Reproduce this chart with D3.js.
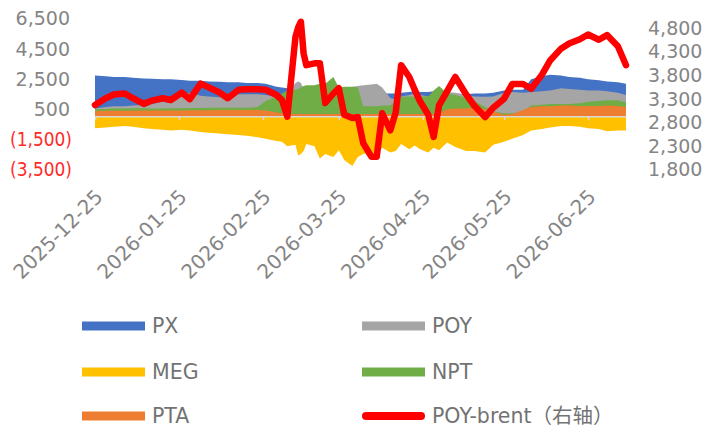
<!DOCTYPE html>
<html>
<head>
<meta charset="utf-8">
<script src="https://cdn.jsdelivr.net/npm/d3@7"></script>
<style>
  html, body { margin: 0; padding: 0; background: #fff; }
  svg text { font-family: "DejaVu Sans", "Noto Sans CJK SC", sans-serif; }
</style>
</head>
<body>
<svg class="chart" width="711" height="435"></svg>
<script>
// dates of the sampled points
var dates = ["2025-12-25","2025-12-29","2026-01-01","2026-01-05","2026-01-08","2026-01-12","2026-01-15","2026-01-19",
  "2026-01-22","2026-01-26","2026-01-29","2026-02-02","2026-02-05","2026-02-09","2026-02-12","2026-02-16",
  "2026-02-19","2026-02-23","2026-02-26","2026-03-02","2026-03-04","2026-03-06","2026-03-09","2026-03-10",
  "2026-03-11","2026-03-12","2026-03-13","2026-03-16","2026-03-18","2026-03-20","2026-03-23","2026-03-25",
  "2026-03-27","2026-03-30","2026-04-01","2026-04-03","2026-04-06","2026-04-08","2026-04-10","2026-04-13",
  "2026-04-15","2026-04-17","2026-04-20","2026-04-22","2026-04-24","2026-04-27","2026-04-29","2026-05-01",
  "2026-05-04","2026-05-07","2026-05-11","2026-05-14","2026-05-18","2026-05-21","2026-05-25","2026-05-28",
  "2026-06-01","2026-06-04","2026-06-08","2026-06-11","2026-06-15","2026-06-18","2026-06-22","2026-06-25",
  "2026-06-29","2026-07-02","2026-07-06","2026-07-09"];

var px  = [2700,2650,2600,2600,2550,2500,2480,2450,2450,2400,2350,2350,2300,2280,2250,2250,
  2200,2200,2150,1950,1900,1850,1800,1700,1650,1600,1550,1500,1500,1500,1500,1500,
  1500,1500,1500,1500,1500,1500,1500,1500,1500,1550,1600,1650,1600,1600,1650,1600,
  1500,1500,1450,1500,1500,1550,1700,1750,1750,2450,2650,2750,2700,2600,2550,2450,
  2380,2300,2250,2150];
var poy = [500,600,650,650,700,750,800,950,850,1300,1550,1350,1300,1250,1350,1450,
  1450,1450,1400,1300,1350,1500,2200,2300,2200,1800,1300,1200,1200,1200,1200,1300,
  1500,1950,2000,2050,2100,2150,1900,1200,1100,1300,1400,1500,1400,1300,1500,1400,
  1600,1550,1400,1300,1280,1300,1550,1600,1550,1600,1650,1700,1850,1800,1750,1700,
  1700,1650,1550,1400];
var meg = [-800,-750,-700,-650,-700,-800,-850,-900,-950,-900,-950,-1050,-1100,-1150,-1200,-1250,
  -1300,-1400,-1500,-1650,-1700,-2000,-1900,-2600,-2500,-2300,-1850,-2000,-2800,-2500,-2700,-2250,
  -2900,-3300,-2700,-2500,-2400,-2550,-2100,-2400,-2300,-1850,-2200,-1950,-2200,-2400,-2100,-2250,
  -1750,-2050,-2300,-2300,-2400,-1900,-1700,-1500,-1250,-950,-850,-750,-650,-650,-700,-800,
  -850,-1000,-950,-950];
var npt = [450,480,500,500,520,520,500,500,520,520,540,540,550,550,550,560,
  560,600,1000,1300,1500,1700,1750,1800,1900,2000,2050,2050,2150,2150,2600,1900,
  1950,1950,1900,650,650,650,700,700,1000,1280,1300,1280,1300,1300,1700,2000,
  1500,1400,1200,1000,600,300,200,200,300,700,750,800,800,800,850,950,
  1000,1050,1050,900];
var pta = [330,350,350,360,360,370,370,380,380,380,390,390,390,400,400,400,
  400,400,380,250,200,150,150,150,150,150,150,150,150,150,150,150,
  150,150,150,150,150,150,150,150,150,150,150,150,150,150,150,200,
  450,500,500,550,450,300,100,150,400,600,650,650,700,700,650,680,
  680,700,680,600];
var poyBrent = [3156,3300,3380,3400,3300,3180,3250,3300,3262,3420,3280,3610,3530,3420,3300,3480,
  3490,3490,3480,3368,3262,2908,4600,4800,4920,4250,4000,4040,4040,3200,3400,3510,
  2950,2880,2900,2350,2062,2062,2980,2620,3000,4000,3750,3480,3230,2950,2480,3150,
  3450,3750,3380,3140,2900,3100,3290,3600,3600,3500,3800,4100,4350,4460,4550,4650,
  4540,4640,4400,4000];

var leftTicks = [-3500, -1500, 500, 2500, 4500, 6500];
var rightTicks = [1800, 2300, 2800, 3300, 3800, 4300, 4800];
var xTickDates = ["2025-12-25","2026-01-25","2026-02-25","2026-03-25","2026-04-25","2026-05-25","2026-06-25"];

(function () {
  var parse = d3.timeParse("%Y-%m-%d");
  var days = dates.map(parse);

  // area series in drawing order (first = back)
  var areas = [
    {name: "PX",  color: "#4472c4", values: px},
    {name: "POY", color: "#a5a5a5", values: poy},
    {name: "MEG", color: "#ffc000", values: meg},
    {name: "NPT", color: "#70ad47", values: npt},
    {name: "PTA", color: "#ed7d31", values: pta}
  ];

  var chart = d3.select("svg.chart"),
      plotTop = 18, plotBottom = 169, plotLeft = 95, plotRight = 626;

  var xScale = d3.scaleTime().domain([parse("2025-12-25"), parse("2026-07-09")]).range([plotLeft, plotRight]),
      yLeft = d3.scaleLinear().domain([-3500, 6500]).range([plotBottom, plotTop]),
      yRight = d3.scaleLinear().domain([1800, 5000]).range([plotBottom, plotTop]);

  // areas
  areas.forEach(function(s) {
    var area = d3.area()
      .x(function(d, i) { return xScale(days[i]); })
      .y0(yLeft(0))
      .y1(function(d) { return yLeft(d); });
    chart.append("path")
      .attr("d", area(s.values))
      .attr("fill", s.color);
  });

  // horizontal axis at zero
  var xAxis = d3.axisBottom(xScale)
    .tickValues(xTickDates.map(parse))
    .tickSize(4).tickSizeOuter(0)
    .tickFormat("");
  chart.append("g").attr("id", "xAxisG")
    .attr("transform", "translate(0," + yLeft(0) + ")")
    .call(xAxis);
  d3.selectAll("#xAxisG path, #xAxisG line").attr("stroke", "#d9d9d9").attr("stroke-width", 1.5);

  // POY-brent line
  var line = d3.line()
    .x(function(d, i) { return xScale(days[i]); })
    .y(function(d) { return yRight(d); });
  chart.append("path")
    .attr("d", line(poyBrent))
    .attr("fill", "none")
    .attr("stroke", "#ff0000")
    .attr("stroke-width", 6.5)
    .attr("stroke-linejoin", "round")
    .attr("stroke-linecap", "round");

  // left axis
  var fmt = d3.format(",");
  var yAxis = d3.axisLeft(yLeft).tickValues(leftTicks).tickSize(0).tickPadding(0)
    .tickFormat(function(d) { return d < 0 ? "(" + fmt(-d) + ")" : fmt(d); });
  chart.append("g").attr("id", "yAxisG")
    .attr("transform", "translate(70,0)")
    .call(yAxis);
  d3.select("#yAxisG .domain").remove();
  d3.selectAll("#yAxisG text")
    .attr("font-size", 19)
    .attr("font-family", null)
    .attr("dy", "0.36em")
    .attr("x", function(d) { return d < 0 ? 2 : 0; })
    .attr("fill", function(d) { return d < 0 ? "#ff2a2a" : "#858585"; });
  d3.selectAll("#yAxisG text").filter(function(d) { return d < 0; })
    .attr("textLength", 62)
    .attr("lengthAdjust", "spacingAndGlyphs");

  // right axis
  var yAxisR = d3.axisRight(yRight).tickValues(rightTicks).tickSize(0).tickPadding(0).tickFormat(fmt);
  chart.append("g").attr("id", "yAxisR")
    .attr("transform", "translate(648,0)")
    .call(yAxisR);
  d3.select("#yAxisR .domain").remove();
  d3.selectAll("#yAxisR text")
    .attr("font-size", 19)
    .attr("font-family", null)
    .attr("dy", "0.36em")
    .attr("fill", "#858585");

  // rotated date labels along the bottom
  chart.append("g").selectAll("text")
    .data(xTickDates)
    .enter()
    .append("text")
    .attr("transform", function(d) { return "translate(" + (xScale(parse(d)) + 9) + ",198) rotate(-45)"; })
    .attr("text-anchor", "end")
    .attr("font-size", 20)
    .attr("fill", "#858585")
    .text(function(d) { return d; });

  // legend
  var legendItems = areas.map(function(s) { return {name: s.name, color: s.color, line: false}; });
  legendItems.push({name: "POY-brent（右轴）", color: "#ff0000", line: true});
  var legendX = [82, 362], legendY = [326, 372, 416];

  var legend = chart.append("g").selectAll("g")
    .data(legendItems)
    .enter()
    .append("g")
    .attr("transform", function(d, i) { return "translate(" + legendX[i % 2] + "," + legendY[Math.floor(i / 2)] + ")"; });

  legend.each(function(d) {
    var g = d3.select(this);
    if (d.line) {
      g.append("line").attr("x1", 4).attr("x2", 59).attr("y1", 0).attr("y2", 0)
        .attr("stroke", d.color).attr("stroke-width", 8).attr("stroke-linecap", "round");
    } else {
      g.append("rect").attr("x", 0).attr("y", -4.5).attr("width", 63).attr("height", 9).attr("fill", d.color);
    }
    g.append("text").attr("x", 70).attr("dy", "0.36em")
      .attr("font-size", 20.5).attr("fill", "#737373")
      .text(d.name);
  });
})();
</script>
</body>
</html>
